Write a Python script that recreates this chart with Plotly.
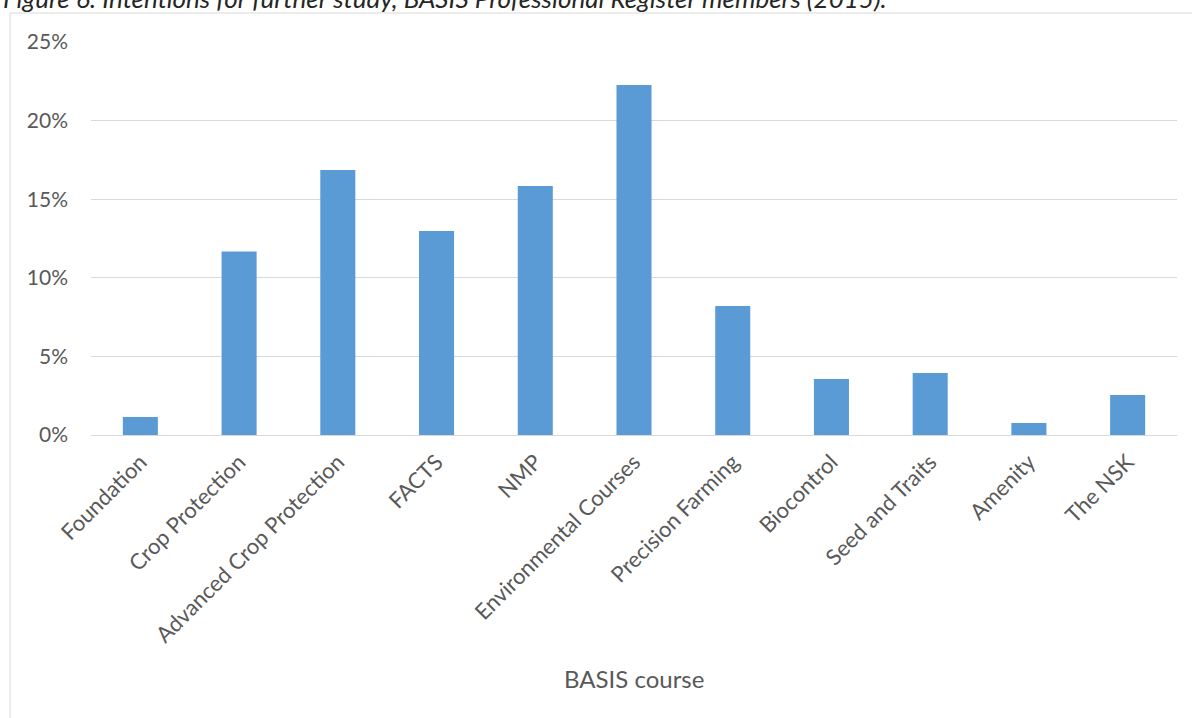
import plotly.graph_objects as go

courses = [
    "Foundation", "Crop Protection", "Advanced Crop Protection", "FACTS", "NMP",
    "Environmental Courses", "Precision Farming", "Biocontrol", "Seed and Traits",
    "Amenity", "The NSK",
]
share = [0.0115, 0.1167, 0.1686, 0.1298, 0.1584, 0.2226, 0.0821, 0.0356, 0.0394, 0.0076, 0.0254]
y_ticks = [0, 0.05, 0.10, 0.15, 0.20, 0.25]
y_tick_labels = ["0%", "5%", "10%", "15%", "20%", "25%"]

FONT = "Lato"
GREY_TEXT = "#595959"
GRID = "#d9d9d9"

# plot area in pixels
W, H = 1192, 718
L, R, T, B = 91, 15, 42, 283
pw, ph = W - L - R, H - T - B


def px_x(x):
    return (x - L) / pw


def px_y(y):
    return (H - B - y) / ph


fig = go.Figure(
    go.Bar(
        x=courses,
        y=share,
        marker=dict(color="#5b9bd5", line=dict(width=0)),
        width=0.355,
    )
)

fig.update_layout(
    width=W,
    height=H,
    margin=dict(l=L, r=R, t=T, b=B),
    paper_bgcolor="white",
    plot_bgcolor="white",
    showlegend=False,
    font=dict(family=FONT, color=GREY_TEXT, size=20),
    xaxis=dict(
        tickangle=-45,
        tickfont=dict(family=FONT, size=22, color=GREY_TEXT),
        showgrid=False,
        showline=False,
        zeroline=False,
        ticks="",
        ticklabelstandoff=9,
    ),
    yaxis=dict(
        range=[0, 0.25],
        tickvals=y_ticks,
        ticktext=y_tick_labels,
        tickfont=dict(family=FONT, size=21, color=GREY_TEXT),
        showgrid=True,
        gridcolor=GRID,
        gridwidth=1,
        zeroline=True,
        zerolinecolor=GRID,
        zerolinewidth=1,
        showline=False,
        ticks="",
        ticklabelstandoff=22,
    ),
    shapes=[
        dict(
            type="rect", xref="paper", yref="paper",
            x0=px_x(10), x1=px_x(1240), y0=px_y(800), y1=px_y(13),
            line=dict(color=GRID, width=1), fillcolor="rgba(0,0,0,0)", layer="below",
        )
    ],
    annotations=[
        dict(
            text="BASIS course", xref="paper", yref="paper",
            x=0.5, y=px_y(678), xanchor="center", yanchor="middle",
            showarrow=False, font=dict(family=FONT, size=24, color=GREY_TEXT),
        ),
        dict(
            text="<i>Figure 6: Intentions for further study, BASIS Professional Register members (2015).</i>",
            xref="paper", yref="paper",
            x=px_x(1), y=px_y(-2), xanchor="left", yanchor="middle",
            showarrow=False, font=dict(family=FONT, size=26, color="#262626"),
        ),
    ],
)

fig.write_html("out.html")
